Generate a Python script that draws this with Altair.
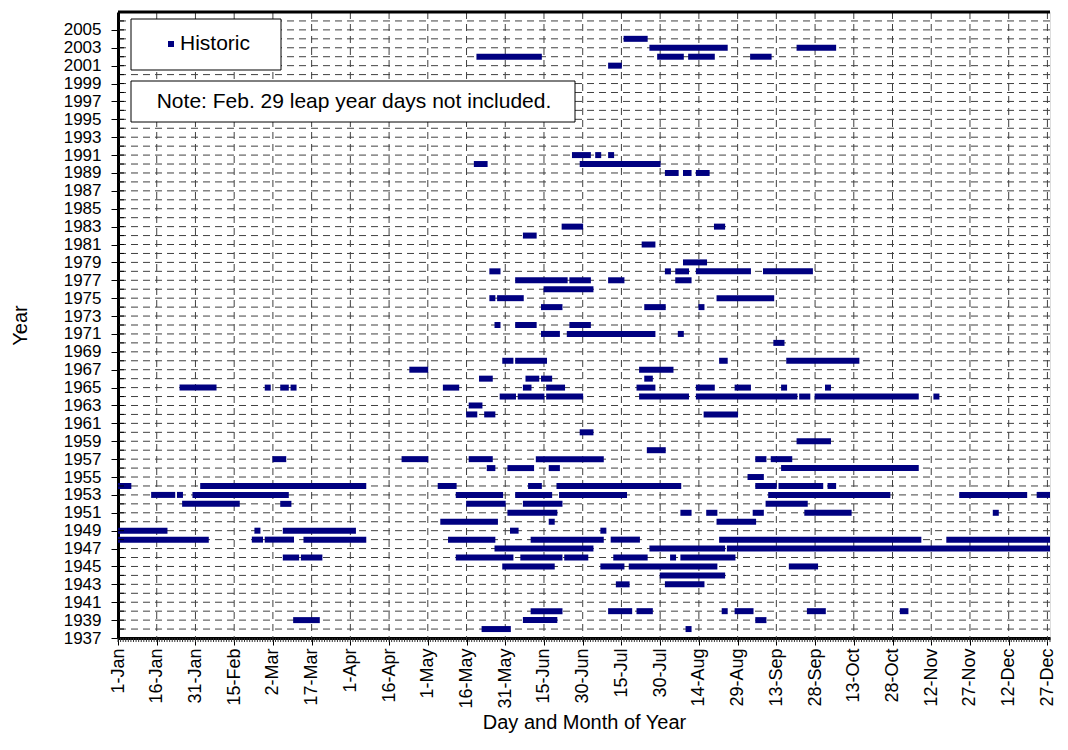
import altair as alt
import pandas as pd

# ---- data: (year, first day, last day) of each run ----
runs_by_year = {
    2004: [(198, 205)],
    2003: [(208, 236), (265, 278)],
    2002: [(141, 164), (211, 219), (223, 231), (247, 253)],
    2001: [(192, 195)],
    1991: [(178, 183), (187, 187), (192, 192)],
    1990: [(140, 143), (181, 210)],
    1989: [(214, 217), (221, 222), (226, 229)],
    1983: [(174, 180), (233, 235)],
    1982: [(159, 162)],
    1981: [(205, 208)],
    1979: [(221, 228)],
    1978: [(146, 148), (214, 214), (218, 221), (226, 245), (252, 269)],
    1977: [(156, 174), (177, 183), (192, 196), (218, 222)],
    1976: [(167, 184)],
    1975: [(146, 146), (149, 157), (234, 254)],
    1974: [(166, 172), (206, 212), (227, 227)],
    1972: [(148, 148), (156, 162), (177, 183)],
    1971: [(166, 171), (176, 208), (219, 219)],
    1970: [(256, 258)],
    1968: [(151, 153), (156, 166), (235, 236), (261, 287)],
    1967: [(115, 120), (204, 215)],
    1966: [(142, 145), (160, 163), (166, 168), (206, 207)],
    1965: [(26, 38), (59, 59), (65, 66), (69, 69), (128, 132), (159, 160), (168, 173),
           (203, 208), (226, 231), (241, 245), (259, 259), (276, 276)],
    1964: [(150, 154), (157, 165), (168, 180), (204, 221), (226, 263), (266, 268),
           (272, 310), (318, 318)],
    1963: [(138, 141)],
    1962: [(137, 139), (144, 146), (229, 240)],
    1960: [(181, 184)],
    1959: [(265, 276)],
    1958: [(207, 212)],
    1957: [(62, 65), (112, 120), (138, 145), (164, 188), (249, 251), (255, 261)],
    1956: [(145, 146), (153, 161), (169, 171), (259, 310)],
    1955: [(246, 250)],
    1954: [(1, 5), (34, 96), (126, 131), (161, 164), (172, 218), (249, 255), (258, 273), (277, 278)],
    1953: [(15, 22), (25, 25), (31, 66), (133, 149), (156, 168), (173, 197), (254, 299),
           (328, 352), (358, 365)],
    1952: [(27, 47), (65, 67), (137, 150), (159, 172), (253, 267)],
    1951: [(153, 170), (220, 222), (230, 232), (248, 250), (268, 284), (341, 341)],
    1950: [(127, 147), (169, 169), (234, 247)],
    1949: [(1, 19), (55, 55), (66, 92), (154, 155), (189, 189)],
    1948: [(1, 35), (54, 56), (59, 68), (74, 96), (130, 146), (162, 188), (193, 202),
           (235, 311), (323, 365)],
    1947: [(148, 184), (208, 235), (238, 365)],
    1946: [(66, 70), (73, 79), (133, 153), (158, 172), (175, 182), (194, 205), (216, 216), (220, 239)],
    1945: [(151, 169), (189, 196), (200, 232), (262, 271)],
    1944: [(212, 235)],
    1943: [(195, 198), (214, 227)],
    1940: [(162, 172), (192, 199), (203, 207), (236, 236), (241, 246), (269, 274), (305, 306)],
    1939: [(70, 78), (159, 170), (249, 251)],
    1938: [(143, 152), (222, 222)],
}

tick_days = [1, 16, 31, 46, 61, 76, 91, 106, 121, 136, 151, 166, 181, 196, 211,
             226, 241, 256, 271, 286, 301, 316, 331, 346, 361]
tick_labels = ["1-Jan", "16-Jan", "31-Jan", "15-Feb", "2-Mar", "17-Mar", "1-Apr",
               "16-Apr", "1-May", "16-May", "31-May", "15-Jun", "30-Jun", "15-Jul",
               "30-Jul", "14-Aug", "29-Aug", "13-Sep", "28-Sep", "13-Oct", "28-Oct",
               "12-Nov", "27-Nov", "12-Dec", "27-Dec"]
year_labels = list(range(1937, 2006, 2))
legend_label = "Historic"
note_text = "Note: Feb. 29 leap year days not included."

rows = [{"year": y, "start": s, "end": e} for y, lst in runs_by_year.items() for s, e in lst]
segs = pd.DataFrame(rows)

W, H = 932, 626
FONT = "Liberation Sans"
NAVY = "#000080"

xscale = alt.Scale(domain=[1, 362], nice=False, zero=False)
yscale = alt.Scale(domain=[1937, 2007], nice=False, zero=False)

label_expr = "[" + ",".join("'%s'" % t for t in tick_labels) + "][round((datum.value-1)/15)]"

x_axis = alt.Axis(values=tick_days, labelExpr=label_expr, labelAngle=-90, labelFontSize=18,
                  labelFont=FONT, labelColor="black", labelPadding=3, labelFlush=False,
                  labelOverlap=False, tickSize=7, tickColor="black",
                  domainColor="black", domainWidth=3, grid=False,
                  title="Day and Month of Year", titleFont=FONT, titleFontSize=20,
                  titleFontWeight="normal", titleColor="black", titlePadding=4)
y_axis = alt.Axis(values=year_labels, format="d", labelFontSize=17, labelFont=FONT,
                  labelColor="black", labelPadding=10, labelOverlap=False,
                  tickSize=7, tickColor="black", domainColor="black",
                  domainWidth=3, grid=False, title="Year", titleFont=FONT, titleFontSize=20,
                  titleFontWeight="normal", titleColor="black", titlePadding=33)

dash = dict(color="#404040", strokeWidth=1, strokeDash=[7, 5])

grid_v = alt.Chart(pd.DataFrame({"day": tick_days[1:]})).mark_rule(**dash).encode(
    x=alt.X("day:Q", scale=xscale, axis=x_axis))
grid_h = alt.Chart(pd.DataFrame({"year": list(range(1938, 2007))})).mark_rule(**dash).encode(
    y=alt.Y("year:Q", scale=yscale, axis=y_axis))

bars = alt.Chart(segs).mark_rule(color=NAVY, strokeWidth=6, strokeCap="square", clip=True).encode(
    x=alt.X("start:Q", scale=xscale, axis=x_axis),
    x2="end:Q",
    y=alt.Y("year:Q", scale=yscale, axis=y_axis),
)

minor_x = alt.Chart(pd.DataFrame({"day": list(range(1, 363))})).mark_rule(
    color="#333333", strokeWidth=1).encode(
    x=alt.X("day:Q", scale=xscale, axis=x_axis), y=alt.value(H), y2=alt.value(H + 4))
minor_y = alt.Chart(pd.DataFrame({"year": list(range(1938, 2007))})).mark_rule(
    color="black", strokeWidth=1).encode(
    y=alt.Y("year:Q", scale=yscale, axis=y_axis), x=alt.value(0), x2=alt.value(6))

one = pd.DataFrame({"legend": [legend_label], "note": [note_text]})
frame = alt.Chart(one).mark_rule(color="black", strokeWidth=3).encode(
    x=alt.value(0), x2=alt.value(W), y=alt.value(0))

legend_box = alt.Chart(one).mark_rect(fill="white", stroke="black", strokeWidth=1).encode(
    x=alt.value(13), x2=alt.value(163), y=alt.value(7), y2=alt.value(58))
legend_sym = alt.Chart(one).mark_square(color=NAVY, opacity=1, size=36).encode(
    x=alt.value(53), y=alt.value(32))
legend_txt = alt.Chart(one).mark_text(align="left", baseline="middle", font=FONT,
                                      fontSize=21, color="black").encode(
    text="legend:N", x=alt.value(62), y=alt.value(32))

note_box = alt.Chart(one).mark_rect(fill="white", stroke="black", strokeWidth=1).encode(
    x=alt.value(13), x2=alt.value(457), y=alt.value(69), y2=alt.value(110))
note_txt = alt.Chart(one).mark_text(align="center", baseline="middle", font=FONT,
                                    fontSize=21, color="black").encode(
    text="note:N", x=alt.value(236), y=alt.value(90))

chart = alt.layer(
    grid_v, grid_h, bars, minor_x, minor_y, frame,
    legend_box, legend_sym, legend_txt, note_box, note_txt
).properties(
    width=W, height=H,
    padding={"left": 2, "top": 2, "right": 0, "bottom": 0},
).configure_view(stroke=None).configure(background="white")

chart.save("out.html", embed_options={"renderer": "svg", "actions": False})
